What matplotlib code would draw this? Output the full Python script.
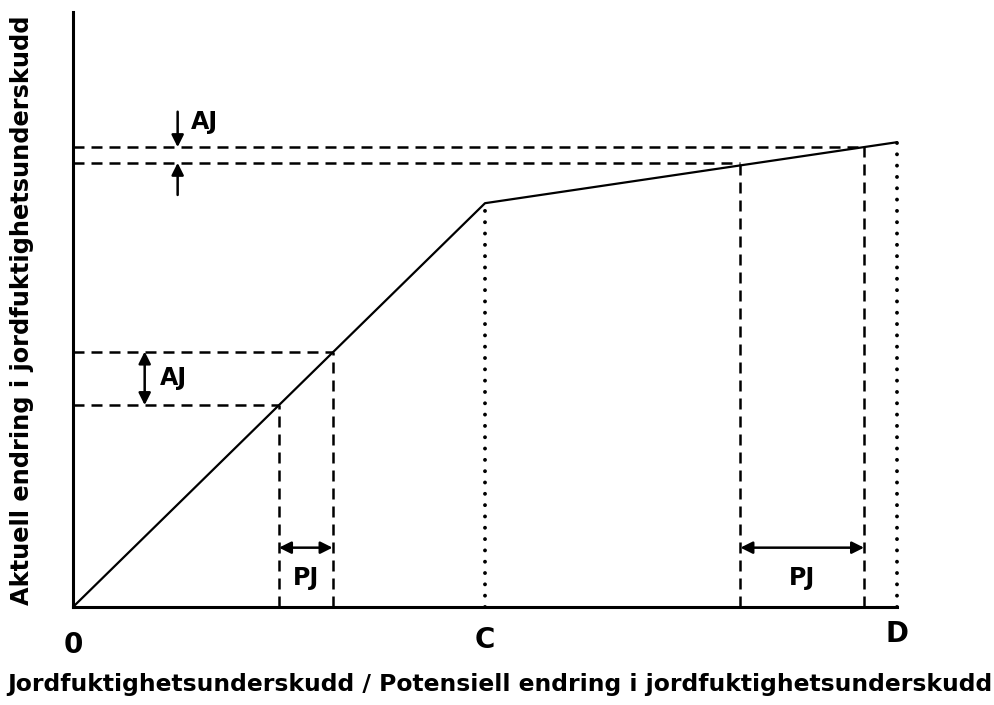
import matplotlib
matplotlib.use("Agg")
import matplotlib.pyplot as plt

# x positions (0 .. D) and the curve values at those positions
x_points = [0, 25, 31.5, 50, 81, 96, 100]
y_points = [0, 24.5, 31, 49, 53.9, 55.8, 56.4]
curve_x = [0, 50, 100]
curve_y = [0, 49, 56.4]
tick_pos = [0, 50, 100]
tick_labels = ["0", "C", "D"]
x_label = "Jordfuktighetsunderskudd / Potensiell endring i jordfuktighetsunderskudd"
y_label = "Aktuell endring i jordfuktighetsunderskudd"

plt.rcParams["font.family"] = ["DejaVu Sans"]
plt.rcParams["font.weight"] = "bold"

fig = plt.figure(figsize=(9.95, 7.05), dpi=100)
ax = fig.add_axes([73 / 995, 98 / 705, 824 / 995, 595 / 705])
ax.set_xlim(0, 100)
ax.set_ylim(0, 72.2)
for s in ["top", "right"]:
    ax.spines[s].set_visible(False)
for s in ["left", "bottom"]:
    ax.spines[s].set_linewidth(2.2)
ax.set_xticks([])
ax.set_yticks([])

dash = (0, (4.4, 2.8))
dot = (0, (0.01, 2.9))
lw = 1.8

# main curve
ax.plot(curve_x, curve_y, color="black", lw=1.6, solid_capstyle="round", clip_on=False)

x1, x2, xc, x3, x4, xd = x_points[1:]
y1, y2, yc, y3, y4, yd = y_points[1:]

# dashed guide lines
for xv, yv in [(x1, y1), (x2, y2), (x3, y3), (x4, y4)]:
    ax.plot([0, xv], [yv, yv], color="black", lw=lw, ls=dash)
    ax.plot([xv, xv], [0, yv], color="black", lw=lw, ls=dash)

# dotted lines at C and D
for xv, yv in [(xc, yc), (xd, yd)]:
    ax.plot([xv, xv], [0, yv], color="black", lw=2.8, ls=dot,
            dash_capstyle="round", clip_on=False)

arrow = dict(arrowstyle="<|-|>", color="black", lw=1.8, mutation_scale=18,
             shrinkA=0, shrinkB=0)
one = dict(arrowstyle="-|>", color="black", lw=1.8, mutation_scale=18,
           shrinkA=0, shrinkB=0)

# lower AJ
ax.annotate("", xy=(8.7, y1), xytext=(8.7, y2), arrowprops=arrow)
ax.text(10.5, (y1 + y2) / 2, "AJ", fontsize=17, va="center", ha="left")

# upper AJ
ax.annotate("", xy=(12.7, y4), xytext=(12.7, 60.1), arrowprops=one)
ax.annotate("", xy=(12.7, y3), xytext=(12.7, 50.0), arrowprops=one)
ax.text(14.3, 58.8, "AJ", fontsize=17, va="center", ha="left")

# PJ arrows
ax.annotate("", xy=(x1, 7.2), xytext=(x2, 7.2), arrowprops=arrow)
ax.text((x1 + x2) / 2, 3.5, "PJ", fontsize=17, va="center", ha="center")
ax.annotate("", xy=(x3, 7.2), xytext=(x4, 7.2), arrowprops=arrow)
ax.text((x3 + x4) / 2, 3.5, "PJ", fontsize=17, va="center", ha="center")

# tick labels
for pos, lab, dy in zip(tick_pos, tick_labels, [-4.6, -4.0, -3.3]):
    ax.text(pos, dy, lab, fontsize=20, ha="center", va="center", clip_on=False)

fig.text(500 / 995, 1 - 685 / 705, x_label, fontsize=16.9, ha="center", va="center")
fig.text(22 / 995, 1 - 310 / 705, y_label, fontsize=17.3, ha="center", va="center",
         rotation=90)

fig.savefig("out.png", dpi=100)
